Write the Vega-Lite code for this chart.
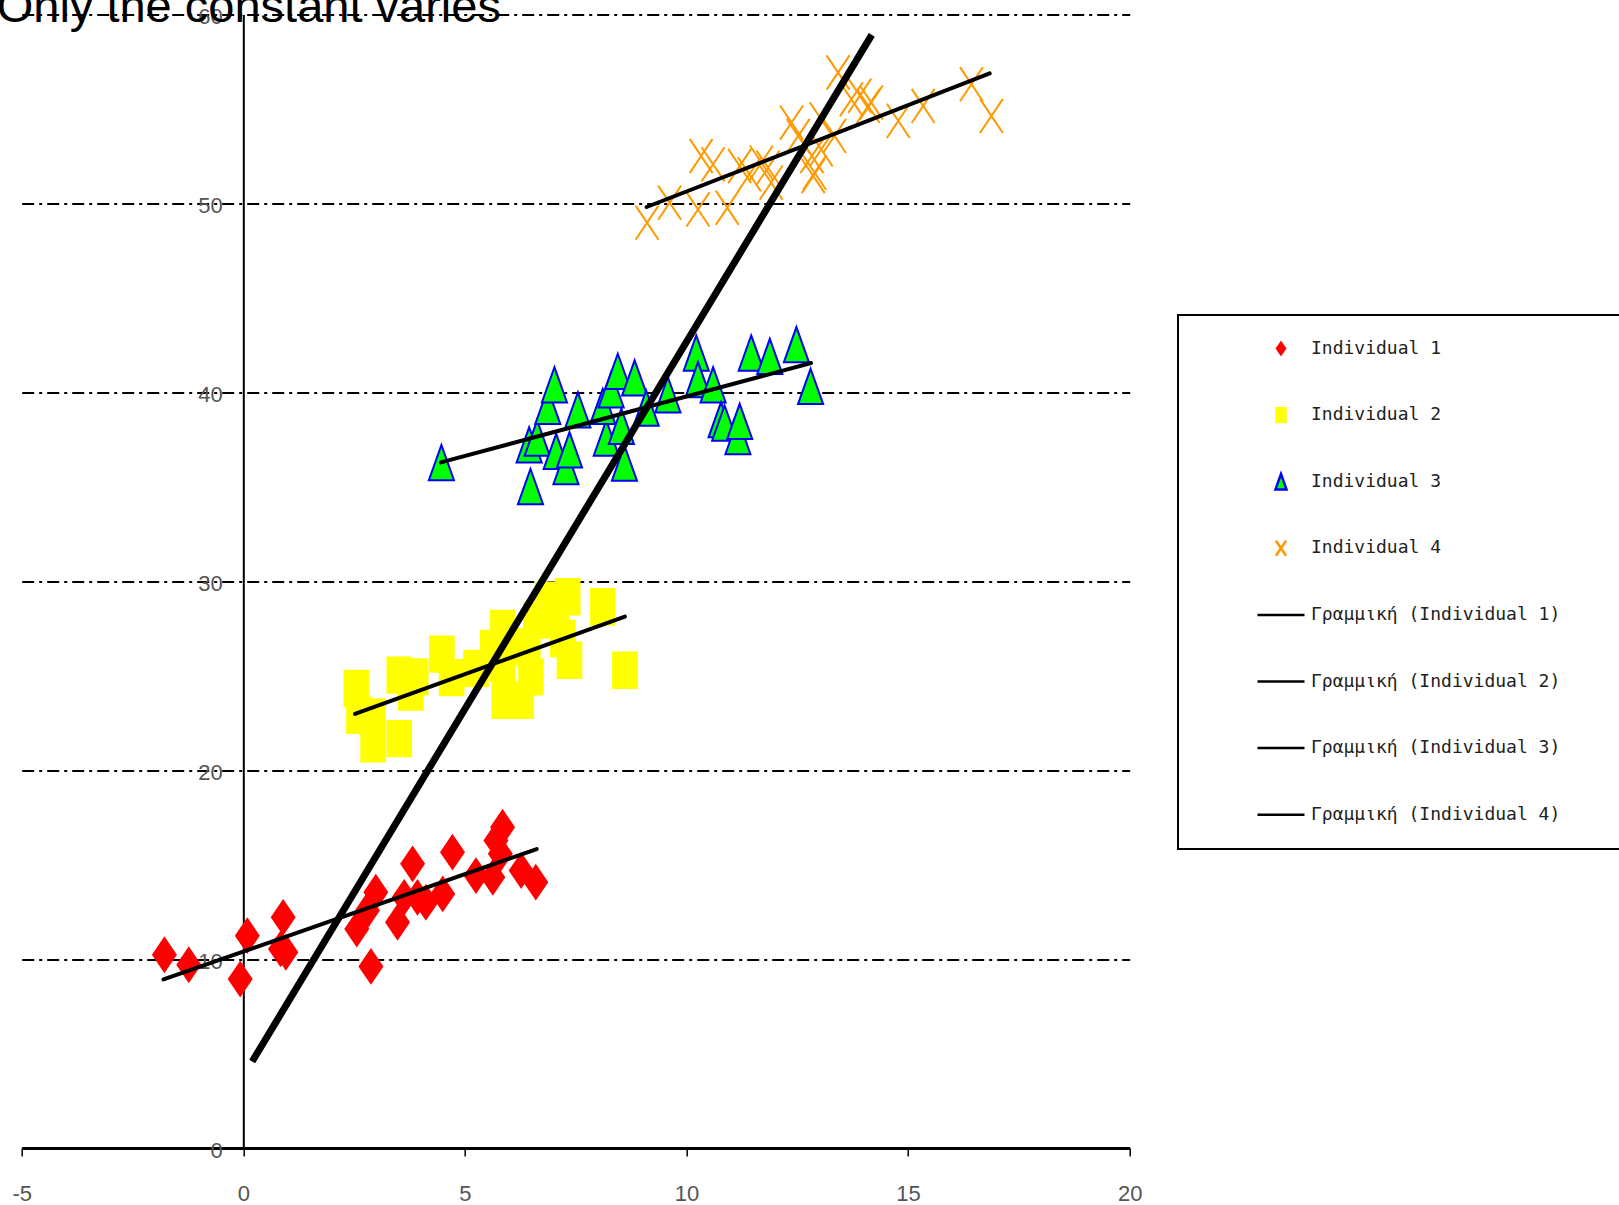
{
  "$schema": "https://vega.github.io/schema/vega-lite/v6.json",
  "width": 1108,
  "height": 1133.5,
  "autosize": {"type": "none"},
  "padding": {"left": 21.7, "top": 14.5, "right": 489.3, "bottom": 57},
  "background": "white",
  "title": {
    "text": "Only the constant varies",
    "anchor": "start",
    "frame": "group",
    "orient": "top",
    "font": "Liberation Sans",
    "fontSize": 47,
    "fontWeight": "normal",
    "color": "black",
    "baseline": "alphabetic",
    "offset": -63,
    "dx": -25
  },
  "config": {
    "view": {"stroke": null},
    "legend": {"strokeWidth": 2}
  },
  "datasets": {
    "points": [
      {"series": "Individual 1", "x": -1.78, "y": 10.23},
      {"series": "Individual 1", "x": -1.23, "y": 9.70},
      {"series": "Individual 1", "x": 0.09, "y": 11.24},
      {"series": "Individual 1", "x": -0.07, "y": 8.94},
      {"series": "Individual 1", "x": 0.90, "y": 12.21},
      {"series": "Individual 1", "x": 0.84, "y": 10.54},
      {"series": "Individual 1", "x": 0.96, "y": 10.36},
      {"series": "Individual 1", "x": 2.56, "y": 11.59},
      {"series": "Individual 1", "x": 2.88, "y": 9.61},
      {"series": "Individual 1", "x": 2.99, "y": 13.54},
      {"series": "Individual 1", "x": 2.80, "y": 12.57},
      {"series": "Individual 1", "x": 3.48, "y": 11.95},
      {"series": "Individual 1", "x": 3.82, "y": 15.04},
      {"series": "Individual 1", "x": 3.63, "y": 13.27},
      {"series": "Individual 1", "x": 3.93, "y": 13.27},
      {"series": "Individual 1", "x": 4.12, "y": 13.0},
      {"series": "Individual 1", "x": 4.50, "y": 13.45},
      {"series": "Individual 1", "x": 4.72, "y": 15.66},
      {"series": "Individual 1", "x": 5.25, "y": 14.42},
      {"series": "Individual 1", "x": 5.63, "y": 14.33},
      {"series": "Individual 1", "x": 5.70, "y": 16.28},
      {"series": "Individual 1", "x": 5.85, "y": 16.98},
      {"series": "Individual 1", "x": 5.80, "y": 15.57},
      {"series": "Individual 1", "x": 6.27, "y": 14.69},
      {"series": "Individual 1", "x": 6.60, "y": 14.07},
      {"series": "Individual 2", "x": 2.55, "y": 24.32},
      {"series": "Individual 2", "x": 2.61, "y": 22.91},
      {"series": "Individual 2", "x": 2.93, "y": 22.82},
      {"series": "Individual 2", "x": 2.93, "y": 21.4},
      {"series": "Individual 2", "x": 3.52, "y": 21.67},
      {"series": "Individual 2", "x": 3.52, "y": 25.03},
      {"series": "Individual 2", "x": 3.78, "y": 24.14},
      {"series": "Individual 2", "x": 3.89, "y": 24.94},
      {"series": "Individual 2", "x": 4.48, "y": 26.14},
      {"series": "Individual 2", "x": 4.70, "y": 24.9},
      {"series": "Individual 2", "x": 5.25, "y": 25.38},
      {"series": "Individual 2", "x": 5.63, "y": 26.44},
      {"series": "Individual 2", "x": 5.85, "y": 27.5},
      {"series": "Individual 2", "x": 5.85, "y": 25.66},
      {"series": "Individual 2", "x": 5.89, "y": 23.70},
      {"series": "Individual 2", "x": 6.27, "y": 23.70},
      {"series": "Individual 2", "x": 6.49, "y": 24.94},
      {"series": "Individual 2", "x": 6.60, "y": 27.94},
      {"series": "Individual 2", "x": 6.87, "y": 29.0},
      {"series": "Individual 2", "x": 7.32, "y": 29.18},
      {"series": "Individual 2", "x": 7.36, "y": 25.82},
      {"series": "Individual 2", "x": 7.21, "y": 26.97},
      {"series": "Individual 2", "x": 7.06, "y": 28.0},
      {"series": "Individual 2", "x": 8.11, "y": 28.65},
      {"series": "Individual 2", "x": 8.61, "y": 25.29},
      {"series": "Individual 2", "x": 6.42, "y": 26.53},
      {"series": "Individual 3", "x": 4.47, "y": 36.28},
      {"series": "Individual 3", "x": 6.45, "y": 37.22},
      {"series": "Individual 3", "x": 6.48, "y": 35.01},
      {"series": "Individual 3", "x": 6.63, "y": 37.58},
      {"series": "Individual 3", "x": 6.87, "y": 39.25},
      {"series": "Individual 3", "x": 7.02, "y": 40.40},
      {"series": "Individual 3", "x": 7.06, "y": 36.87},
      {"series": "Individual 3", "x": 7.28, "y": 36.07},
      {"series": "Individual 3", "x": 7.36, "y": 36.96},
      {"series": "Individual 3", "x": 7.55, "y": 39.07},
      {"series": "Individual 3", "x": 8.19, "y": 37.58},
      {"series": "Individual 3", "x": 8.11, "y": 39.25},
      {"series": "Individual 3", "x": 8.30, "y": 40.13},
      {"series": "Individual 3", "x": 8.45, "y": 41.11},
      {"series": "Individual 3", "x": 8.53, "y": 38.2},
      {"series": "Individual 3", "x": 8.60, "y": 36.25},
      {"series": "Individual 3", "x": 8.83, "y": 40.76},
      {"series": "Individual 3", "x": 9.09, "y": 39.16},
      {"series": "Individual 3", "x": 9.58, "y": 39.87},
      {"series": "Individual 3", "x": 10.22, "y": 42.08},
      {"series": "Individual 3", "x": 10.26, "y": 40.67},
      {"series": "Individual 3", "x": 10.60, "y": 40.40},
      {"series": "Individual 3", "x": 10.78, "y": 38.55},
      {"series": "Individual 3", "x": 10.86, "y": 38.37},
      {"series": "Individual 3", "x": 11.16, "y": 37.66},
      {"series": "Individual 3", "x": 11.20, "y": 38.46},
      {"series": "Individual 3", "x": 11.46, "y": 42.08},
      {"series": "Individual 3", "x": 11.88, "y": 41.90},
      {"series": "Individual 3", "x": 12.48, "y": 42.52},
      {"series": "Individual 3", "x": 12.80, "y": 40.31},
      {"series": "Individual 4", "x": 9.11, "y": 48.98},
      {"series": "Individual 4", "x": 9.62, "y": 50.04},
      {"series": "Individual 4", "x": 10.26, "y": 49.68},
      {"series": "Individual 4", "x": 10.33, "y": 52.51},
      {"series": "Individual 4", "x": 10.60, "y": 52.07},
      {"series": "Individual 4", "x": 10.92, "y": 49.77},
      {"series": "Individual 4", "x": 11.20, "y": 51.98},
      {"series": "Individual 4", "x": 11.42, "y": 51.54},
      {"series": "Individual 4", "x": 11.69, "y": 52.16},
      {"series": "Individual 4", "x": 11.84, "y": 51.89},
      {"series": "Individual 4", "x": 11.91, "y": 51.10},
      {"series": "Individual 4", "x": 12.37, "y": 54.28},
      {"series": "Individual 4", "x": 12.52, "y": 53.57},
      {"series": "Individual 4", "x": 12.83, "y": 52.51},
      {"series": "Individual 4", "x": 12.86, "y": 51.45},
      {"series": "Individual 4", "x": 12.89, "y": 51.63},
      {"series": "Individual 4", "x": 13.04, "y": 54.45},
      {"series": "Individual 4", "x": 13.04, "y": 52.86},
      {"series": "Individual 4", "x": 13.34, "y": 53.57},
      {"series": "Individual 4", "x": 13.42, "y": 56.93},
      {"series": "Individual 4", "x": 13.72, "y": 55.51},
      {"series": "Individual 4", "x": 13.91, "y": 55.7},
      {"series": "Individual 4", "x": 14.10, "y": 55.16},
      {"series": "Individual 4", "x": 14.17, "y": 55.34},
      {"series": "Individual 4", "x": 14.78, "y": 54.37},
      {"series": "Individual 4", "x": 15.34, "y": 55.16},
      {"series": "Individual 4", "x": 16.43, "y": 56.31},
      {"series": "Individual 4", "x": 16.88, "y": 54.63}
    ],
    "fits": [
      {"line": "Γραμμική (Individual 1)", "x": -1.80, "y": 8.92},
      {"line": "Γραμμική (Individual 1)", "x": 6.62, "y": 15.82},
      {"line": "Γραμμική (Individual 2)", "x": 2.52, "y": 22.98},
      {"line": "Γραμμική (Individual 2)", "x": 8.61, "y": 28.13},
      {"line": "Γραμμική (Individual 3)", "x": 4.46, "y": 36.29},
      {"line": "Γραμμική (Individual 3)", "x": 12.81, "y": 41.55},
      {"line": "Γραμμική (Individual 4)", "x": 9.10, "y": 49.81},
      {"line": "Γραμμική (Individual 4)", "x": 16.84, "y": 56.88}
    ],
    "pooled": [
      {"x": 0.20, "y": 4.58},
      {"x": 14.18, "y": 58.92}
    ]
  },
  "layer": [
    {
      "data": {"name": "points"},
      "mark": {"type": "point", "size": 11406, "strokeWidth": 2, "opacity": 1, "fillOpacity": 1, "strokeOpacity": 1},
      "encoding": {
        "x": {
          "field": "x", "type": "quantitative",
          "scale": {"domain": [-5, 20], "nice": false, "zero": false},
          "axis": {
            "orient": "bottom", "values": [-5, 0, 5, 10, 15, 20], "title": null,
            "labelExpr": "'' + datum.value",
            "domainColor": "black", "domainWidth": 3,
            "tickColor": "black", "tickWidth": 1.5, "tickSize": 8,
            "labelPadding": 27, "labelFont": "Liberation Sans",
            "labelFontSize": 22, "labelColor": "#555555", "labelFlush": false, "labelOverlap": false,
            "grid": false
          }
        },
        "y": {
          "field": "y", "type": "quantitative",
          "scale": {"domain": [0, 60], "nice": false, "zero": false},
          "axis": {
            "orient": "left", "offset": -221.6, "values": [0, 10, 20, 30, 40, 50, 60], "title": null,
            "domainColor": "black", "domainWidth": 2,
            "ticks": false, "tickSize": 0,
            "labelPadding": 21, "labelOffset": 2, "labelFont": "Liberation Sans",
            "labelFontSize": 22, "labelColor": "#555555", "labelOverlap": false,
            "grid": true, "gridColor": "black", "gridWidth": 2, "gridDash": [12, 5, 3, 5], "gridOpacity": 1
          }
        },
        "shape": {
          "field": "series", "type": "nominal",
          "scale": {
            "domain": ["Individual 1", "Individual 2", "Individual 3", "Individual 4", "Γραμμική (Individual 1)", "Γραμμική (Individual 2)", "Γραμμική (Individual 3)", "Γραμμική (Individual 4)"],
            "range": ["M0,-0.345L0.234,0L0,0.345L-0.234,0Z", "M-0.24,-0.35L0.24,-0.35L0.24,0.35L-0.24,0.35Z", "M0,-0.33L0.235,0.33L-0.235,0.33Z", "M-0.215,-0.32L0.215,0.32M-0.215,0.32L0.215,-0.32", "stroke", "stroke", "stroke", "stroke"]
          },
          "legend": {
            "title": null, "orient": "none", "legendX": 1156.3, "legendY": 300.5,
            "padding": 10, "strokeColor": "black", "fillColor": "white",
            "clipHeight": 47, "rowPadding": 19.6, "symbolSize": 2209, "symbolStrokeWidth": 2.5,
            "symbolOffset": 68, "labelOffset": 5, "symbolOpacity": 1,
            "labelFont": "DejaVu Sans Mono", "labelFontSize": 18, "labelColor": "#222222", "labelLimit": 800,
            "labelExpr": "datum.label + '\u2800\u2800\u2800\u2800\u2800\u2800\u2800\u2800\u2800\u2800'"
          }
        },
        "fill": {
          "field": "series", "type": "nominal",
          "scale": {
            "domain": ["Individual 1", "Individual 2", "Individual 3", "Individual 4", "Γραμμική (Individual 1)", "Γραμμική (Individual 2)", "Γραμμική (Individual 3)", "Γραμμική (Individual 4)"],
            "range": ["#ff0000", "#ffff00", "#00ff00", "transparent", "#000000", "#000000", "#000000", "#000000"]
          },
          "legend": {
            "title": null, "orient": "none", "legendX": 1156.3, "legendY": 300.5,
            "padding": 10, "strokeColor": "black", "fillColor": "white",
            "clipHeight": 47, "rowPadding": 19.6, "symbolSize": 2209, "symbolStrokeWidth": 2.5,
            "symbolOffset": 68, "labelOffset": 5, "symbolOpacity": 1,
            "labelFont": "DejaVu Sans Mono", "labelFontSize": 18, "labelColor": "#222222", "labelLimit": 800,
            "labelExpr": "datum.label + '\u2800\u2800\u2800\u2800\u2800\u2800\u2800\u2800\u2800\u2800'"
          }
        },
        "stroke": {
          "field": "series", "type": "nominal",
          "scale": {
            "domain": ["Individual 1", "Individual 2", "Individual 3", "Individual 4", "Γραμμική (Individual 1)", "Γραμμική (Individual 2)", "Γραμμική (Individual 3)", "Γραμμική (Individual 4)"],
            "range": ["transparent", "transparent", "#0000ff", "#ff9900", "#000000", "#000000", "#000000", "#000000"]
          },
          "legend": {
            "title": null, "orient": "none", "legendX": 1156.3, "legendY": 300.5,
            "padding": 10, "strokeColor": "black", "fillColor": "white",
            "clipHeight": 47, "rowPadding": 19.6, "symbolSize": 2209, "symbolStrokeWidth": 2.5,
            "symbolOffset": 68, "labelOffset": 5, "symbolOpacity": 1,
            "labelFont": "DejaVu Sans Mono", "labelFontSize": 18, "labelColor": "#222222", "labelLimit": 800,
            "labelExpr": "datum.label + '\u2800\u2800\u2800\u2800\u2800\u2800\u2800\u2800\u2800\u2800'"
          }
        }
      }
    },
    {
      "data": {"name": "fits"},
      "mark": {"type": "line", "color": "black", "strokeWidth": 4, "strokeCap": "round"},
      "encoding": {
        "x": {"field": "x", "type": "quantitative"},
        "y": {"field": "y", "type": "quantitative"},
        "detail": {"field": "line", "type": "nominal"}
      }
    },
    {
      "data": {"name": "pooled"},
      "mark": {"type": "line", "color": "black", "strokeWidth": 7, "strokeCap": "butt"},
      "encoding": {
        "x": {"field": "x", "type": "quantitative"},
        "y": {"field": "y", "type": "quantitative"}
      }
    }
  ]
}
